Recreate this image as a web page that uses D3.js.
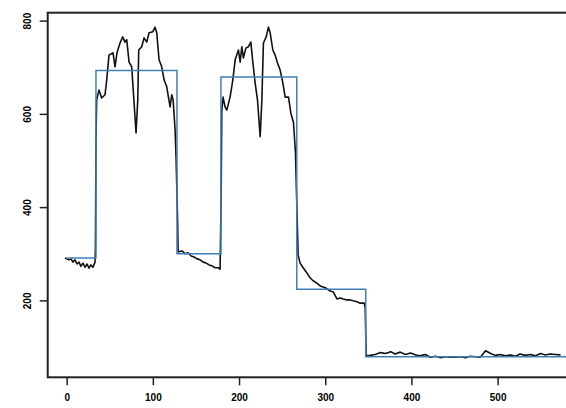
<html>

<body>
    <svg id='viz'></svg>
</body>
<style>
    body {
        margin: 0;
        background: #fff;
    }

    svg {
        display: block;
    }

    .axis text {
        font-family: "Liberation Sans", Arial, sans-serif;
        font-weight: bold;
        font-size: 10px;
        fill: #000;
    }

    .axis line {
        stroke: #222;
        stroke-width: 1.5px;
    }
</style>
<script src='https://d3js.org/d3.v7.min.js'></script>
<script>
    // tick values
    var xTicks = [0, 100, 200, 300, 400, 500];
    var yTicks = [200, 400, 600, 800];

    // fitted step levels (blue): segment start positions and level of each segment
    var stepBreaks = [0, 34, 128, 179, 267, 347, 582];
    var stepLevels = [291, 693, 300, 679, 224, 79];

    // measured signal (black)
    var signalX = [
        -2, 0.3, 2.7, 5, 7.3, 9.6, 12, 14.3, 16.6, 18.9, 21.3, 23.6, 25.9, 28.2, 30.5, 32.9, 33.4,
        34.0, 34.8, 37.5, 40.6, 44.5, 46.5, 49.1, 53.8, 56.1, 58.4, 61.9, 65.0, 67.7, 69.7, 72.4, 75.5,
        77.0, 80.5, 82.5, 83.6, 87.1, 89.8, 92.9, 95.6, 99.9, 102.5, 104.5, 107.2, 110.3, 113.0, 116.1,
        120.0, 121.9, 123.5, 125.8, 126.9,
        128.7, 129.3, 133.9, 137.4, 140.9, 144.4, 147.8, 151.3, 154.8, 158.3, 161.8, 165.3, 168.7, 172.2,
        175.7, 178.0,
        179.2, 180.0, 181.5, 183.8, 185.8, 189.6, 192.8, 195.5, 199.3, 201.3, 203.2, 205.1, 207.9, 210.9,
        213.7, 216.0, 218.7, 221.4, 224.5, 226.5, 228.3, 231.5, 234.1, 236.1, 239.2, 241.9, 244.6, 247.7,
        250.9, 253.5, 257.4, 260.1, 263.2, 265.5, 266.9,
        268.6, 270.9, 274.4, 277.9, 282.6, 286.0, 290.3, 294.2, 300.0, 305.8, 309.3, 313.6, 317.4, 320.9,
        325.1, 329.0, 332.5, 336.8, 340.6, 345.2, 346.4, 347.5,
        352, 358, 364, 370, 376, 381, 387, 393, 399, 405, 410, 416, 422, 428, 434, 439, 445, 451, 457,
        463, 468, 474, 480, 486, 492, 497, 503, 509, 515, 521, 526, 532, 538, 544, 550, 555, 561, 567, 573
    ];
    var signalY = [
        291, 289, 287, 289, 282, 287, 278, 282, 273, 280, 271, 278, 269, 276, 271, 282, 312,
        538, 630, 651, 634, 641, 673, 726, 731, 701, 731, 752, 765, 754, 759, 711, 701,
        658, 559, 630, 737, 744, 763, 754, 774, 776, 786, 774, 716, 701, 673, 658,
        615, 641, 630, 566, 508,
        374, 304, 306, 300, 302, 295, 293, 289, 287, 282, 280, 276, 274, 270,
        270, 267,
        415, 608, 636, 615, 608, 636, 673, 716, 737, 711, 744, 720, 741, 744,
        754, 711, 666, 630, 551, 630, 752, 765, 786, 774, 737, 726, 709, 694,
        666, 636, 636, 602, 581, 516, 415,
        297, 280, 270, 261, 248, 242, 237, 231, 227, 220, 218, 203, 205, 203,
        201, 201, 199, 197, 194, 194, 184, 81,
        82, 84, 88, 86, 90, 85, 89, 84, 87, 83, 81, 84, 78, 80, 77, 79, 78, 78, 79,
        77, 80, 79, 78, 92, 86, 82, 84, 81, 83, 80, 85, 82, 84, 81, 86, 83, 85, 84, 83
    ];

    var width = 566;
    var height = 408;
    var plotL = 47.7, plotR = 570, plotT = 12.7, plotB = 377.3;

    var x = d3.scaleLinear().domain([-22, 584]).range([plotL, plotR]);
    var y = d3.scaleLinear().domain([35, 817]).range([plotB, plotT]);

    var svg = d3.select("#viz").attr("width", width).attr("height", height);

    svg.append("defs").append("clipPath").attr("id", "plotclip")
        .append("rect")
        .attr("x", plotL).attr("y", plotT)
        .attr("width", plotR - plotL).attr("height", plotB - plotT);

    var plot = svg.append("g").attr("clip-path", "url(#plotclip)");

    // step line
    var steps = [];
    stepLevels.forEach(function (v, i) {
        steps.push([stepBreaks[i], v]);
    });
    steps.push([stepBreaks[stepBreaks.length - 1], stepLevels[stepLevels.length - 1]]);

    var line = d3.line()
        .x(function (d) { return x(d[0]); })
        .y(function (d) { return y(d[1]); });

    plot.append("path")
        .datum(signalX.map(function (v, i) { return [v, signalY[i]]; }))
        .attr("fill", "none")
        .attr("stroke", "#111")
        .attr("stroke-width", 1.6)
        .attr("stroke-linejoin", "round")
        .attr("d", line);

    plot.append("path")
        .datum(steps)
        .attr("fill", "none")
        .attr("stroke", "#3f7fb8")
        .attr("stroke-width", 1.5)
        .attr("d", line.curve(d3.curveStepAfter));

    // frame
    svg.append("rect")
        .attr("x", plotL).attr("y", plotT)
        .attr("width", plotR - plotL).attr("height", plotB - plotT)
        .attr("fill", "none")
        .attr("stroke", "#222")
        .attr("stroke-width", 2);

    var xAxis = svg.append("g").attr("class", "axis")
        .attr("transform", "translate(0," + plotB + ")")
        .call(d3.axisBottom(x).tickValues(xTicks).tickSize(8).tickPadding(9).tickSizeOuter(0));
    xAxis.select(".domain").remove();

    var yAxis = svg.append("g").attr("class", "axis")
        .attr("transform", "translate(" + plotL + ",0)")
        .call(d3.axisLeft(y).tickValues(yTicks).tickSize(8).tickPadding(0).tickSizeOuter(0));
    yAxis.select(".domain").remove();
    yAxis.selectAll("text")
        .attr("x", 0).attr("dy", "0.35em")
        .attr("text-anchor", "middle")
        .attr("transform", "translate(-20,0) rotate(-90)");
</script>

</html>
